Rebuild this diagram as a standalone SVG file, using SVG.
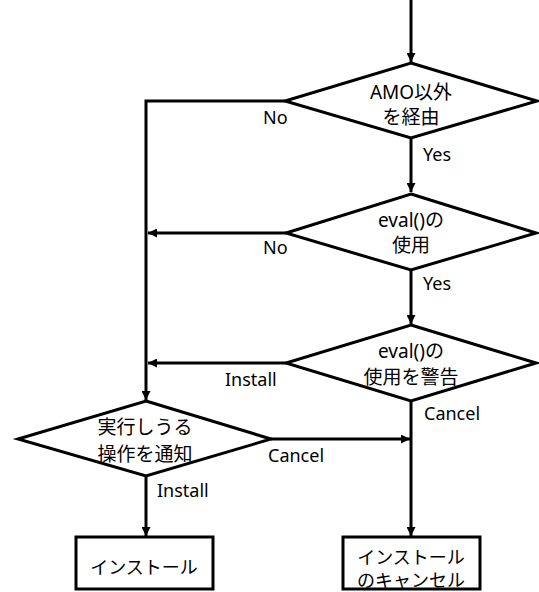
<svg xmlns="http://www.w3.org/2000/svg" width="539" height="592" viewBox="0 0 539 592">
<style>
.shape{fill:#fff;stroke:#000;stroke-width:3;stroke-linejoin:miter}
.conn{fill:none;stroke:#000;stroke-width:3}
.t{font-family:"Noto Sans","Noto Sans CJK JP",sans-serif;font-size:19px;fill:#000;text-anchor:middle}
.b{font-family:"Noto Sans","Noto Sans CJK JP",sans-serif;font-size:18px;fill:#000;text-anchor:middle}
.lbl{font-family:"Noto Sans","Noto Sans CJK JP",sans-serif;font-size:18px;fill:#000}
</style>
<defs>
<marker id="ah" viewBox="0 0 10 10" refX="10" refY="5" markerWidth="10" markerHeight="9" markerUnits="userSpaceOnUse" orient="auto">
<path d="M0,0 L10,5 L0,10 z" fill="#000"/>
</marker>
</defs>
<g id="connectors">
<line class="conn" x1="411" y1="0" x2="411" y2="62" marker-end="url(#ah)"/>
<polyline class="conn" points="285,101 146,101 146,400" marker-end="url(#ah)"/>
<line class="conn" x1="411" y1="138" x2="411" y2="192" marker-end="url(#ah)"/>
<line class="conn" x1="286" y1="233" x2="148" y2="233" marker-end="url(#ah)"/>
<line class="conn" x1="411" y1="270" x2="411" y2="324" marker-end="url(#ah)"/>
<line class="conn" x1="286" y1="363" x2="148" y2="363" marker-end="url(#ah)"/>
<line class="conn" x1="411" y1="401" x2="411" y2="536" marker-end="url(#ah)"/>
<line class="conn" x1="271" y1="439" x2="410" y2="439" marker-end="url(#ah)"/>
<line class="conn" x1="146" y1="476" x2="146" y2="536" marker-end="url(#ah)"/>
<text class="lbl" x="263" y="124">No</text>
<text class="lbl" x="423" y="161">Yes</text>
<text class="lbl" x="263" y="254">No</text>
<text class="lbl" x="423" y="290">Yes</text>
<text class="lbl" x="225" y="386">Install</text>
<text class="lbl" x="424" y="420">Cancel</text>
<text class="lbl" x="268" y="462">Cancel</text>
<text class="lbl" x="157" y="497">Install</text>
</g>
<g id="d1">
<polygon class="shape" points="411,63 537,101 411,138 285,101"/>
<text class="t" x="411" y="99">AMO以外</text>
<text class="t" x="411" y="124">を経由</text>
</g>
<g id="d2">
<polygon class="shape" points="411,194 536,233 411,270 286,233"/>
<text class="t" x="411" y="227">eval()の</text>
<text class="t" x="411" y="252">使用</text>
</g>
<g id="d3">
<polygon class="shape" points="411,325 536,363 411,401 286,363"/>
<text class="t" x="411" y="358">eval()の</text>
<text class="t" x="411" y="384">使用を警告</text>
</g>
<g id="d4">
<polygon class="shape" points="146,401 271,439 146,476 18,439"/>
<text class="t" x="145" y="434">実行しうる</text>
<text class="t" x="145" y="461">操作を通知</text>
</g>
<g id="box1">
<rect class="shape" x="76" y="537" width="137" height="52"/>
<text class="b" x="144" y="574">インストール</text>
</g>
<g id="box2">
<rect class="shape" x="343" y="537" width="137" height="52"/>
<text class="b" x="411" y="564">インストール</text>
<text class="b" x="411" y="587">のキャンセル</text>
</g>
</svg>
